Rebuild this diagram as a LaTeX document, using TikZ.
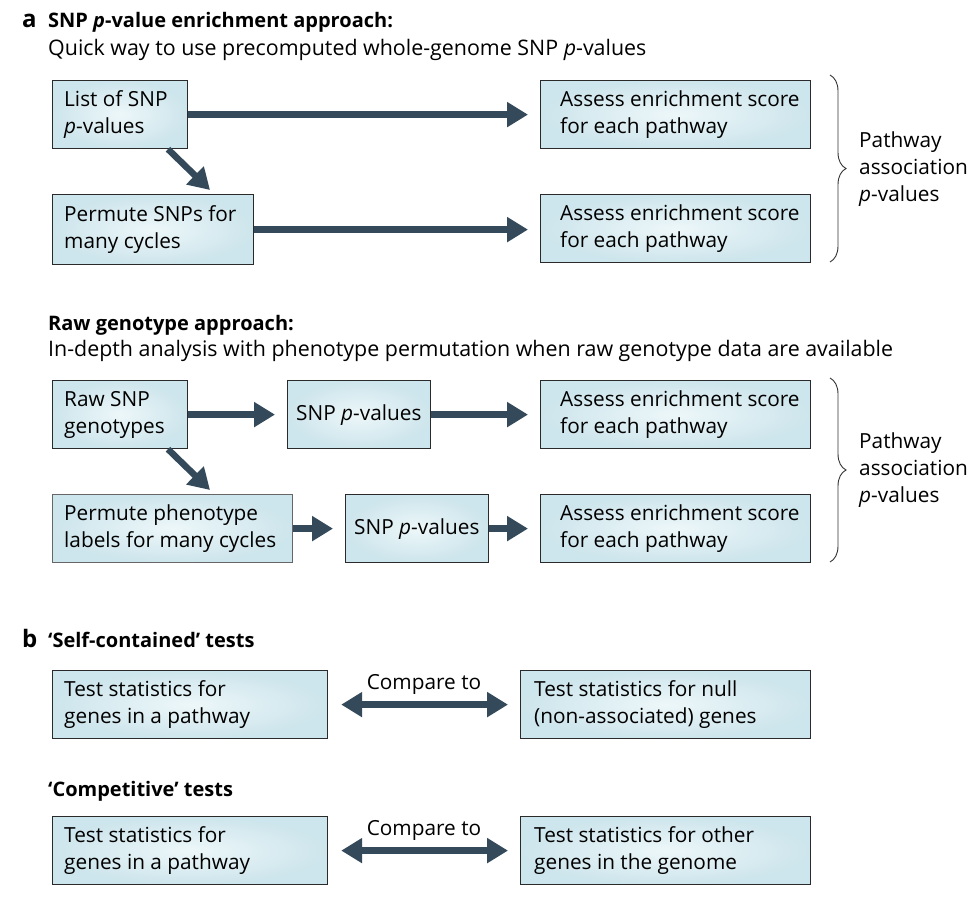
\documentclass[tikz,border=0pt]{standalone}
\usepackage{fontspec}
\setmainfont{Open Sans}
\usetikzlibrary{arrows.meta,decorations.pathreplacing,calc}
\definecolor{boxout}{HTML}{CDE5EC}
\definecolor{boxin}{HTML}{EDF7F9}
\definecolor{arrcol}{HTML}{34495A}
\definecolor{boxline}{HTML}{2A2A2A}
\newcommand\mybox[7]{%
  \node[box,minimum width=#4,minimum height=#5,anchor=north west] (#1) at (#2,#3) {};
  \node[btext,anchor=west] (#1t) at ($(#1.west)+(#6,0)$) {#7};}
\begin{document}
\begin{tikzpicture}[x=1pt,y=-1pt,
  box/.style={draw=boxline,line width=1.2pt,inner color=boxin,outer color=boxout,inner sep=0pt},
  btext/.style={align=left,inner sep=0pt,font=\fontsize{20.8}{27}\selectfont},
  ttl/.style={anchor=base west,inner sep=0pt,font=\fontsize{20}{27}\selectfont\bfseries},
  lab/.style={anchor=base west,inner sep=0pt,font=\fontsize{24}{27}\selectfont\bfseries},
  sub/.style={anchor=base west,inner sep=0pt,font=\fontsize{21.4}{27}\selectfont},
  arr/.style={draw=arrcol,line width=6.5pt,-{Triangle[length=21pt,width=24pt]}},
  darr/.style={draw=arrcol,line width=6.5pt,{Triangle[length=21pt,width=24pt]}-{Triangle[length=21pt,width=24pt]}},
  brc/.style={draw=black!80,line width=0.9pt,decorate,decoration={brace,amplitude=16pt}}]
\useasboundingbox (0,0) rectangle (974,900);

% part a titles
\node[lab] (la) at (22,27) {a};
\node[ttl] (t1) at (48,27) {SNP \textit{p}-value enrichment approach:};
\node[sub] (s1) at (48,55) {Quick way to use precomputed whole-genome SNP \textit{p}-values};
\node[ttl] (t2) at (48,330) {Raw genotype approach:};
\node[sub] (s2) at (48,356) {In-depth analysis with phenotype permutation when raw genotype data are available};

% part a, first approach
\mybox{A1}{52}{80}{135}{68}{12}{List of SNP\\\textit{p}-values}
\mybox{A2}{52}{194}{201}{70}{12}{Permute SNPs for\\many cycles}
\mybox{A3}{540}{80}{270}{68}{20}{Assess enrichment score\\for each pathway}
\mybox{A4}{540}{194}{270}{68}{20}{Assess enrichment score\\for each pathway}
\draw[arr] (A1.east) -- ($(A3.west)+(-12,0)$);
\draw[arr] (A2.east) -- ($(A2.east -| A4.west)+(-12,0)$);
\draw[arr] ($(A1.south west)+(116,0)$) -- ($(A2.north west)+(158,-4)$);
\coordinate (bra1) at (830,75);
\coordinate (brb1) at (830,262);
\draw[brc] (bra1) -- (brb1);
\node[btext,anchor=west] (pv1) at (859,169) {Pathway\\association\\\textit{p}-values};

% part a, raw genotype approach
\mybox{B1}{52}{380}{135}{68}{12}{Raw SNP\\genotypes}
\mybox{B2}{287}{380}{143}{68}{9}{SNP \textit{p}-values}
\mybox{B3}{540}{380}{270}{68}{20}{Assess enrichment score\\for each pathway}
\begin{scope}[box/.append style={draw=black!60}]
\mybox{B4}{52}{494}{240}{68}{12}{Permute phenotype\\labels for many cycles}
\end{scope}
\mybox{B5}{345}{494}{143}{68}{9}{SNP \textit{p}-values}
\mybox{B6}{540}{494}{270}{68}{20}{Assess enrichment score\\for each pathway}
\draw[arr] (B1.east) -- ($(B2.west)+(-12,0)$);
\draw[arr] (B2.east) -- ($(B3.west)+(-12,0)$);
\draw[arr] (B4.east) -- ($(B5.west)+(-12,0)$);
\draw[arr] (B5.east) -- ($(B6.west)+(-12,0)$);
\draw[arr] ($(B1.south west)+(116,0)$) -- ($(B4.north west)+(158,-4)$);
\coordinate (bra2) at (830,378);
\coordinate (brb2) at (830,562);
\draw[brc] (bra2) -- (brb2);
\node[btext,anchor=west] (pv2) at (859,470) {Pathway\\association\\\textit{p}-values};

% part b
\node[lab] (lb) at (22,647) {b};
\node[ttl] (t3) at (48,647) {‘Self-contained’ tests};
\mybox{C1}{52}{670}{275}{68}{12}{Test statistics for\\genes in a pathway}
\mybox{C2}{520}{670}{290}{68}{14}{Test statistics for null\\(non-associated) genes}
\draw[darr] ($(C1.east)+(13,0)$) -- ($(C2.west)+(-12,0)$);
\node[btext,anchor=base] (cmp1) at (424,689) {Compare to};

\node[ttl] (t4) at (48,796) {‘Competitive’ tests};
\mybox{D1}{52}{816}{275}{68}{12}{Test statistics for\\genes in a pathway}
\mybox{D2}{520}{816}{290}{68}{14}{Test statistics for other\\genes in the genome}
\draw[darr] ($(D1.east)+(13,0)$) -- ($(D2.west)+(-12,0)$);
\node[btext,anchor=base] (cmp2) at (424,835) {Compare to};
\end{tikzpicture}
\end{document}
